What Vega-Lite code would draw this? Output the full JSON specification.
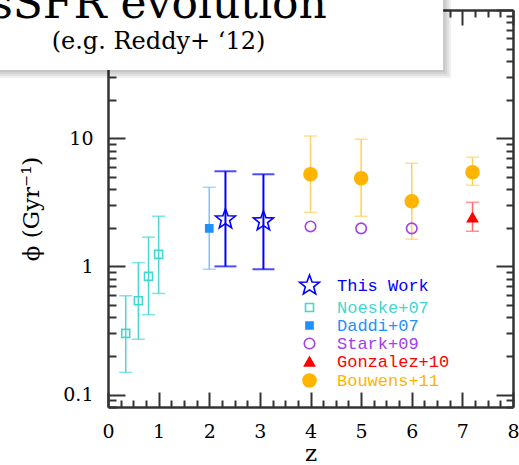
{
  "$schema": "https://vega.github.io/schema/vega-lite/v6.json",
  "width": 405,
  "height": 397,
  "autosize": {"type": "none"},
  "padding": {"left": 108, "top": 10, "right": 6, "bottom": 58},
  "background": "white",
  "config": {
    "view": {"stroke": null},
    "axis": {
      "grid": false,
      "domainColor": "#333333",
      "tickColor": "#333333",
      "domainWidth": 2.5,
      "tickWidth": 2,
      "labelFont": "DejaVu Serif",
      "labelFontSize": 19,
      "labelColor": "black",
      "labelFlush": false,
      "labelOverlap": false,
      "titleFont": "DejaVu Serif",
      "titleFontSize": 23,
      "titleFontWeight": "normal",
      "titleColor": "black"
    },
    "legend": {
      "orient": "none",
      "legendX": 190,
      "legendY": 264,
      "title": null,
      "labelFont": "Liberation Mono",
      "labelFontSize": 17,
      "labelOffset": 16,
      "rowPadding": 0,
      "symbolStrokeWidth": 1.6,
      "zindex": 3
    }
  },
  "title": {
    "text": "sSFR evolution",
    "subtitle": "(e.g. Reddy+ ‘12)",
    "font": "DejaVu Serif",
    "fontSize": 44,
    "fontWeight": "normal",
    "color": "black",
    "subtitleFont": "DejaVu Serif",
    "subtitleFontSize": 24,
    "subtitleColor": "black",
    "subtitlePadding": 3,
    "anchor": "middle",
    "frame": "group",
    "offset": 0,
    "dx": -152,
    "dy": 54,
    "zindex": 2
  },
  "datasets": {
    "obs": [
      {"series": "This Work", "z": 2.32, "phi": 2.33, "lo": 1.0, "hi": 5.52},
      {"series": "This Work", "z": 3.07, "phi": 2.25, "lo": 0.95, "hi": 5.23},
      {"series": "Noeske+07", "z": 0.35, "phi": 0.30, "lo": 0.149, "hi": 0.59},
      {"series": "Noeske+07", "z": 0.6, "phi": 0.54, "lo": 0.27, "hi": 1.07},
      {"series": "Noeske+07", "z": 0.8, "phi": 0.835, "lo": 0.42, "hi": 1.69},
      {"series": "Noeske+07", "z": 1.0, "phi": 1.24, "lo": 0.615, "hi": 2.46},
      {"series": "Daddi+07", "z": 2.0, "phi": 1.98, "lo": 0.95, "hi": 4.14},
      {"series": "Stark+09", "z": 4.0, "phi": 2.05, "lo": null, "hi": null},
      {"series": "Stark+09", "z": 5.0, "phi": 1.98, "lo": null, "hi": null},
      {"series": "Stark+09", "z": 6.0, "phi": 1.98, "lo": null, "hi": null},
      {"series": "Gonzalez+10", "z": 7.2, "phi": 2.41, "lo": 1.88, "hi": 3.16},
      {"series": "Bouwens+11", "z": 4.0, "phi": 5.23, "lo": 2.64, "hi": 10.4},
      {"series": "Bouwens+11", "z": 5.0, "phi": 4.87, "lo": 2.46, "hi": 9.82},
      {"series": "Bouwens+11", "z": 6.0, "phi": 3.22, "lo": 1.63, "hi": 6.38},
      {"series": "Bouwens+11", "z": 7.2, "phi": 5.42, "lo": 4.29, "hi": 7.1}
    ]
  },
  "layer": [
    {
      "data": {"name": "obs"},
      "transform": [{"filter": "false"}],
      "mark": {"type": "point"},
      "encoding": {
        "x": {"field": "z", "type": "quantitative", "scale": {"domain": [0, 8], "nice": false, "zero": false},
          "axis": {"orient": "bottom", "values": [0, 1, 2, 3, 4, 5, 6, 7, 8], "ticks": false, "domain": true, "labelPadding": 15, "title": "z", "titlePadding": 1}},
        "y": {"field": "phi", "type": "quantitative", "scale": {"type": "log", "domain": [0.08, 100], "nice": false},
          "axis": {"orient": "left", "values": [0.1, 1, 10], "ticks": false, "domain": true, "labelPadding": 15, "labelExpr": "datum.value + ''", "title": "ϕ (Gyr⁻¹)", "titlePadding": 19}}
      }
    },
    {
      "data": {"name": "obs"},
      "transform": [{"filter": "false"}],
      "mark": {"type": "point"},
      "encoding": {
        "x": {"field": "z", "type": "quantitative",
          "axis": {"orient": "bottom", "values": [0, 1, 2, 3, 4, 5, 6, 7, 8], "tickSize": -15, "labels": false, "domain": false, "title": null}},
        "y": {"field": "phi", "type": "quantitative",
          "axis": {"orient": "left", "values": [0.1, 1, 10, 100], "tickSize": -17, "labels": false, "domain": false, "title": null}}
      }
    },
    {
      "data": {"name": "obs"},
      "transform": [{"filter": "false"}],
      "mark": {"type": "point"},
      "encoding": {
        "x": {"field": "z", "type": "quantitative",
          "axis": {"orient": "bottom", "values": [0.25, 0.5, 0.75, 1.25, 1.5, 1.75, 2.25, 2.5, 2.75, 3.25, 3.5, 3.75, 4.25, 4.5, 4.75, 5.25, 5.5, 5.75, 6.25, 6.5, 6.75, 7.25, 7.5, 7.75], "tickSize": -7, "labels": false, "domain": false, "title": null}},
        "y": {"field": "phi", "type": "quantitative",
          "axis": {"orient": "left", "values": [0.08, 0.09, 0.2, 0.3, 0.4, 0.5, 0.6, 0.7, 0.8, 0.9, 2, 3, 4, 5, 6, 7, 8, 9, 20, 30, 40, 50, 60, 70, 80, 90], "tickSize": -8, "labels": false, "domain": false, "title": null}}
      }
    },
    {
      "data": {"name": "obs"},
      "transform": [{"filter": "false"}],
      "mark": {"type": "point"},
      "encoding": {
        "x": {"field": "z", "type": "quantitative",
          "axis": {"orient": "top", "values": [0, 1, 2, 3, 4, 5, 6, 7, 8], "tickSize": -15, "labels": false, "domain": true, "title": null}},
        "y": {"field": "phi", "type": "quantitative",
          "axis": {"orient": "right", "values": [0.1, 1, 10, 100], "tickSize": -17, "labels": false, "domain": true, "title": null}}
      }
    },
    {
      "data": {"name": "obs"},
      "transform": [{"filter": "false"}],
      "mark": {"type": "point"},
      "encoding": {
        "x": {"field": "z", "type": "quantitative",
          "axis": {"orient": "top", "values": [0.25, 0.5, 0.75, 1.25, 1.5, 1.75, 2.25, 2.5, 2.75, 3.25, 3.5, 3.75, 4.25, 4.5, 4.75, 5.25, 5.5, 5.75, 6.25, 6.5, 6.75, 7.25, 7.5, 7.75], "tickSize": -7, "labels": false, "domain": false, "title": null}},
        "y": {"field": "phi", "type": "quantitative",
          "axis": {"orient": "right", "values": [0.08, 0.09, 0.2, 0.3, 0.4, 0.5, 0.6, 0.7, 0.8, 0.9, 2, 3, 4, 5, 6, 7, 8, 9, 20, 30, 40, 50, 60, 70, 80, 90], "tickSize": -7, "labels": false, "domain": false, "title": null}}
      }
    },
    {
      "data": {"values": [{}]},
      "mark": {"type": "rect", "color": "black", "opacity": 0.06, "x2Offset": 2, "y2Offset": 2},
      "encoding": {"x": {"datum": -2.5, "type": "quantitative", "axis": null}, "x2": {"datum": 6.62}, "y": {"datum": 120, "type": "quantitative", "axis": null}, "y2": {"datum": 34}}
    },
    {
      "data": {"values": [{}]},
      "mark": {"type": "rect", "color": "black", "opacity": 0.06, "x2Offset": 4, "y2Offset": 4},
      "encoding": {"x": {"datum": -2.5, "type": "quantitative", "axis": null}, "x2": {"datum": 6.62}, "y": {"datum": 120, "type": "quantitative", "axis": null}, "y2": {"datum": 34}}
    },
    {
      "data": {"values": [{}]},
      "mark": {"type": "rect", "color": "black", "opacity": 0.06, "x2Offset": 6, "y2Offset": 6},
      "encoding": {"x": {"datum": -2.5, "type": "quantitative", "axis": null}, "x2": {"datum": 6.62}, "y": {"datum": 120, "type": "quantitative", "axis": null}, "y2": {"datum": 34}}
    },
    {
      "data": {"values": [{}]},
      "mark": {"type": "rect", "color": "black", "opacity": 0.06, "x2Offset": 8, "y2Offset": 8},
      "encoding": {"x": {"datum": -2.5, "type": "quantitative", "axis": null}, "x2": {"datum": 6.62}, "y": {"datum": 120, "type": "quantitative", "axis": null}, "y2": {"datum": 34}}
    },
    {
      "data": {"values": [{}]},
      "mark": {"type": "rect", "color": "white", "opacity": 1},
      "encoding": {"x": {"datum": -2.5, "type": "quantitative", "axis": null}, "x2": {"datum": 6.62}, "y": {"datum": 120, "type": "quantitative", "axis": null}, "y2": {"datum": 34}}
    },
    {
      "data": {"name": "obs"},
      "transform": [{"filter": "datum.series == 'This Work'"}],
      "mark": {"type": "errorbar", "ticks": {"size": 22}, "thickness": 2},
      "encoding": {
        "x": {"field": "z", "type": "quantitative", "axis": null},
        "y": {"field": "lo", "type": "quantitative", "axis": null},
        "y2": {"field": "hi"},
        "color": {"field": "series", "type": "nominal", "legend": null,
          "scale": {"domain": ["This Work", "Noeske+07", "Daddi+07", "Gonzalez+10", "Bouwens+11"], "range": ["#0000FF", "#48D8D8", "#80C0FF", "#FF6666", "#FFD060"]}}
      }
    },
    {
      "data": {"name": "obs"},
      "transform": [{"filter": "datum.series != 'This Work' && datum.lo != null"}],
      "mark": {"type": "errorbar", "ticks": {"size": 13}, "thickness": 1.5},
      "encoding": {
        "x": {"field": "z", "type": "quantitative", "axis": null},
        "y": {"field": "lo", "type": "quantitative", "axis": null},
        "y2": {"field": "hi"},
        "color": {"field": "series", "type": "nominal", "legend": null}
      }
    },
    {
      "data": {"name": "obs"},
      "mark": {"type": "point", "opacity": 1, "strokeWidth": 1.6},
      "encoding": {
        "x": {"field": "z", "type": "quantitative", "axis": null},
        "y": {"field": "phi", "type": "quantitative", "axis": null},
        "shape": {"field": "series", "type": "nominal",
          "scale": {"domain": ["This Work", "Noeske+07", "Daddi+07", "Stark+09", "Gonzalez+10", "Bouwens+11"],
            "range": ["M0,-1L0.247,-0.34L0.951,-0.309L0.399,0.13L0.588,0.809L0,0.42L-0.588,0.809L-0.399,0.13L-0.951,-0.309L-0.247,-0.34Z", "square", "square", "circle", "triangle-up", "circle"]},
          "legend": {"labelColor": {"expr": "scale('stroke', datum.value)"}}},
        "stroke": {"field": "series", "type": "nominal",
          "scale": {"domain": ["This Work", "Noeske+07", "Daddi+07", "Stark+09", "Gonzalez+10", "Bouwens+11"],
            "range": ["#0000FF", "#40D8D0", "#1E90FF", "#A040F0", "#FF0000", "#FFB400"]},
          "legend": {"labelColor": {"expr": "scale('stroke', datum.value)"}}},
        "fill": {"field": "series", "type": "nominal",
          "scale": {"domain": ["This Work", "Noeske+07", "Daddi+07", "Stark+09", "Gonzalez+10", "Bouwens+11"],
            "range": ["transparent", "transparent", "#1E90FF", "transparent", "#FF0000", "#FFB400"]},
          "legend": {"labelColor": {"expr": "scale('stroke', datum.value)"}}},
        "size": {"field": "series", "type": "nominal",
          "scale": {"type": "ordinal", "domain": ["This Work", "Noeske+07", "Daddi+07", "Stark+09", "Gonzalez+10", "Bouwens+11"],
            "range": [441, 64, 50, 110, 100, 170]},
          "legend": {"labelColor": {"expr": "scale('stroke', datum.value)"}}}
      }
    }
  ],
  "resolve": {"axis": {"x": "independent", "y": "independent"}}
}
